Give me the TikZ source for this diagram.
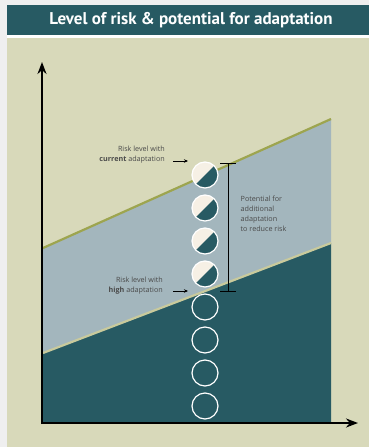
\documentclass[tikz,border=0pt]{standalone}
\usepackage{fontspec}
\setmainfont{Open Sans}
\newfontfamily\titlefont{PT Sans}
\usetikzlibrary{arrows.meta}
\definecolor{bgout}{HTML}{EFEFEF}
\definecolor{panel}{HTML}{D8D9BA}
\definecolor{teal}{HTML}{275A63}
\definecolor{bluegray}{HTML}{A3B6BD}
\definecolor{olive}{HTML}{9DA54F}
\definecolor{paleline}{HTML}{C9CA9C}
\definecolor{cream}{HTML}{F6F0E5}
\definecolor{txt}{HTML}{4A4A4A}
\tikzset{
  halfcirc/.style={circle, draw=white, line width=1.2pt, minimum size=26pt, inner sep=0pt,
    fill=cream, path picture={\fill[teal] (path picture bounding box.south west) -- (path picture bounding box.north east) -- (path picture bounding box.south east) -- cycle;}},
  emptycirc/.style={circle, draw=white, line width=1.2pt, minimum size=26pt, inner sep=0pt},
  lbl/.style={font=\fontsize{7.2}{9.8}\selectfont, text=txt, inner sep=0pt},
  ptr/.style={-{Stealth[length=4pt,width=3.5pt]}, line width=0.7pt, black},
  axis/.style={line width=2pt, black, -{Stealth[length=12pt,width=9pt]}}
}
\begin{document}
\begin{tikzpicture}[x=1pt,y=-1pt]
\useasboundingbox (0,0) rectangle (369,447);
\fill[bgout] (0,0) rectangle (369,447);
\fill[teal] (7,5) rectangle (369,35);
\fill[white] (7,35) rectangle (369,38);
\fill[panel] (7,38) rectangle (369,447);
\node[font=\titlefont\bfseries\fontsize{17}{18}\selectfont, text=white] (title) at (191,20) {Level of risk \& potential for adaptation};
% areas
\fill[bluegray] (43,248) -- (331,119) -- (331,243) -- (43,353) -- cycle;
\fill[teal] (43,353) -- (331,243) -- (331,423) -- (43,423) -- cycle;
\coordinate (u1) at (43,248); \coordinate (u2) at (331,119);
\coordinate (l1) at (43,353); \coordinate (l2) at (331,243);
\draw[olive, line width=2.2pt] (u1) -- (u2);
\draw[paleline, line width=2.2pt] (l1) -- (l2);
% axes
\coordinate (o) at (42,423);
\coordinate (ytop) at (42,62);
\coordinate (xend) at (358,423);
\draw[axis] (42,424) -- (ytop);
\draw[axis] (41,423) -- (xend);
% circles
\node[halfcirc] (c1) at (205,175) {};
\node[halfcirc] (c2) at (205,208) {};
\node[halfcirc] (c3) at (205,241) {};
\node[halfcirc] (c4) at (205,274) {};
\node[emptycirc] (c5) at (205,307) {};
\node[emptycirc] (c6) at (205,340) {};
\node[emptycirc] (c7) at (205,373) {};
\node[emptycirc] (c8) at (205,406) {};
% labels
\node[lbl, align=right, anchor=east] (cur) at (165,155) {Risk level with\\\textbf{current} adaptation};
\node[lbl, align=right, anchor=east] (high) at (163,285.5) {Risk level with\\\textbf{high} adaptation};
\coordinate (a1s) at (173,161); \coordinate (a1e) at (188,161);
\coordinate (a2s) at (173,291); \coordinate (a2e) at (188,291);
\draw[ptr] (a1s) -- (a1e);
\draw[ptr] (a2s) -- (a2e);
% bracket
\coordinate (bt) at (228,163); \coordinate (bb) at (228,291);
\draw[black, line width=0.8pt] (bt) -- (bb);
\draw[black, line width=0.8pt] (220,163) -- (236,163);
\draw[black, line width=0.8pt] (220,291) -- (236,291);
\node[lbl, align=left, anchor=north west] (pot) at (240.5,196) {Potential for\\additional\\adaptation\\to reduce risk};
\end{tikzpicture}
\end{document}
